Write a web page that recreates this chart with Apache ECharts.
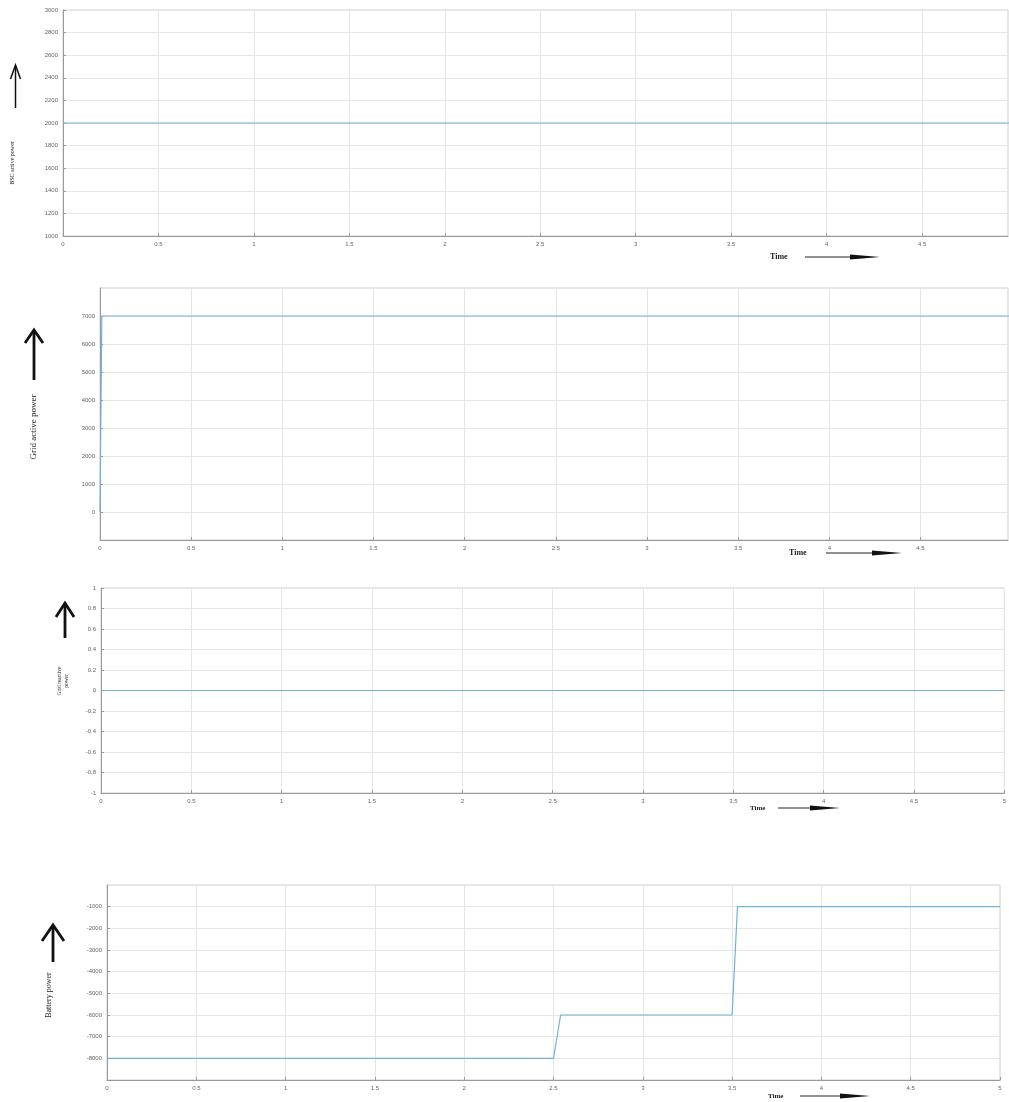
<!DOCTYPE html>
<html>
<head>
<meta charset="utf-8">
<script src="https://cdn.jsdelivr.net/npm/echarts@6/dist/echarts.min.js"></script>
<style>
html,body{margin:0;padding:0;background:#fff;}
#chart{width:1009px;height:1102px;}
</style>
</head>
<body>
<div id="chart"></div>
<script>
// ---- data ----
const bscTime = [0, 5];
const bscPower = [2000, 2000];

const gridTime = [0, 0.01, 5];
const gridPower = [0, 7000, 7000];

const reactTime = [0, 5];
const reactPower = [0, 0];

const battTime = [0, 2.5, 2.54, 3.5, 3.53, 5];
const battPower = [-8000, -8000, -6000, -6000, -1000, -1000];

const yLabels = ['BSC active power', 'Grid active power', 'Grid reactive\npower', 'Battery power'];
const xName = 'Time';

// ---- helpers ----
const pair = (xs, ys) => xs.map((x, i) => [x, ys[i]]);
const lineColor = '#6fb2da';
const txt = '#666';
const plain = v => String(Math.round(v * 100) / 100);

function xAxis(idx, max, showMax) {
  return {
    type: 'value', gridIndex: idx, min: 0, max: max, interval: 0.5,
    axisLine: {show: true, onZero: false, lineStyle: {color: '#9a9a9a'}},
    axisTick: {show: true, inside: true, length: 3, lineStyle: {color: '#9a9a9a'}},
    axisLabel: {fontSize: 6, color: txt, margin: 5, showMaxLabel: showMax, fontFamily: 'Liberation Sans', formatter: plain},
    splitLine: {show: true, lineStyle: {color: '#e6e6e6', width: 1}}
  };
}
function yAxis(idx, min, max, interval, showEnds) {
  return {
    type: 'value', gridIndex: idx, min: min, max: max, interval: interval,
    axisLine: {show: true, lineStyle: {color: '#9a9a9a'}},
    axisTick: {show: true, inside: true, length: 3, lineStyle: {color: '#9a9a9a'}},
    axisLabel: {fontSize: 6, color: txt, margin: 5, showMinLabel: showEnds, showMaxLabel: showEnds,
      fontFamily: 'Liberation Sans', formatter: plain},
    splitLine: {show: true, lineStyle: {color: '#e6e6e6', width: 1}}
  };
}
function gridBox(left, top, width, height) {
  return {left: left, top: top, width: width, height: height, show: true,
    borderColor: '#cfcfcf', borderWidth: 1, backgroundColor: 'transparent', containLabel: false};
}
function series(idx, data) {
  return {type: 'line', xAxisIndex: idx, yAxisIndex: idx, data: data, showSymbol: false,
    symbol: 'none', lineStyle: {color: lineColor, width: 1.2}, animation: false, z: 5};
}
function upArrow(x, top, bottom, headW, headH, lw) {
  return {type: 'group', children: [
    {type: 'line', shape: {x1: x, y1: top + 1, x2: x, y2: bottom}, style: {stroke: '#111', lineWidth: lw}},
    {type: 'polyline', shape: {points: [[x - headW / 2, top + headH], [x, top], [x + headW / 2, top + headH]]},
      style: {stroke: '#111', lineWidth: lw, fill: null, lineJoin: 'miter'}}
  ]};
}
function timeLabel(x, y, x1, x2, fs) {
  return {type: 'group', children: [
    {type: 'text', x: x, y: y, style: {text: xName, font: 'bold ' + fs + 'px "Liberation Serif"', fill: '#222',
      textVerticalAlign: 'middle', verticalAlign: 'middle'}},
    {type: 'line', shape: {x1: x1, y1: y, x2: x2 - 20, y2: y}, style: {stroke: '#222', lineWidth: 1}},
    {type: 'polygon', shape: {points: [[x2 - 30, y - 2.5], [x2, y], [x2 - 30, y + 2.5]]}, style: {fill: '#111'}}
  ]};
}
function yName(text, x, y, fs) {
  return {type: 'text', x: x, y: y, rotation: Math.PI / 2,
    style: {text: text, font: fs + 'px "Liberation Serif"', fill: '#222', align: 'center',
      verticalAlign: 'middle', textAlign: 'center', textVerticalAlign: 'middle', lineHeight: fs + 1}};
}

const chart = echarts.init(document.getElementById('chart'), null, {renderer: 'canvas'});
chart.setOption({
  animation: false,
  backgroundColor: '#fff',
  grid: [
    gridBox(63, 10, 945, 226),
    gridBox(100, 288, 908, 252),
    gridBox(101, 588, 905, 205),
    gridBox(107, 885, 893, 195)
  ],
  xAxis: [
    xAxis(0, 4.95, false),
    xAxis(1, 4.98, false),
    xAxis(2, 5, true),
    xAxis(3, 5, true)
  ],
  yAxis: [
    yAxis(0, 1000, 3000, 200, true),
    yAxis(1, -1000, 8000, 1000, false),
    yAxis(2, -1, 1, 0.2, true),
    yAxis(3, -9000, 0, 1000, false)
  ],
  series: [
    series(0, pair(bscTime, bscPower)),
    series(1, pair(gridTime, gridPower)),
    series(2, pair(reactTime, reactPower)),
    series(3, pair(battTime, battPower))
  ],
  graphic: [
    upArrow(15.5, 65, 108, 10, 14, 1.5),
    upArrow(34, 330, 380, 18, 13, 2.8),
    upArrow(65, 603, 638, 18, 14, 2.8),
    upArrow(53, 925, 962, 22, 16, 2.8),
    yName(yLabels[0], 12, 163, 6),
    yName(yLabels[1], 34, 427, 9),
    yName(yLabels[2], 63, 681, 5.5),
    yName(yLabels[3], 49, 995, 8),
    timeLabel(770, 257, 805, 880, 8),
    timeLabel(789, 553, 826, 902, 8),
    timeLabel(750, 808, 778, 840, 7),
    timeLabel(768, 1096, 800, 870, 7)
  ]
});
</script>
</body>
</html>
